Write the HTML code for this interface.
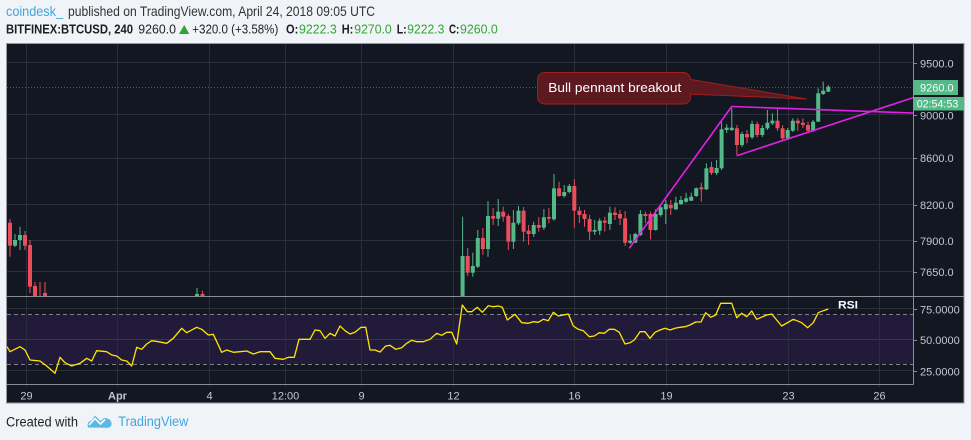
<!DOCTYPE html>
<html><head><meta charset="utf-8"><style>
html,body{margin:0;padding:0;background:#f0f3f7;}
svg{display:block;}
text{font-family:"Liberation Sans",Arial,sans-serif;}
</style></head><body>
<svg width="971" height="440" viewBox="0 0 971 440" xmlns="http://www.w3.org/2000/svg">
<rect x="0" y="0" width="971" height="440" fill="#f0f3f7"/>
<!-- header -->
<text x="6" y="16" font-size="14" fill="#3fa6df" textLength="57" lengthAdjust="spacingAndGlyphs">coindesk_</text>
<text x="68" y="16" font-size="14" fill="#333" textLength="307" lengthAdjust="spacingAndGlyphs">published on TradingView.com, April 24, 2018 09:05 UTC</text>
<g font-size="13">
<text x="6" y="33.5" font-weight="bold" fill="#1e1e1e" textLength="127" lengthAdjust="spacingAndGlyphs">BITFINEX:BTCUSD, 240</text>
<text x="138.3" y="33.5" fill="#222" textLength="37.7" lengthAdjust="spacingAndGlyphs">9260.0</text>
<polygon points="179,34 189.3,34 184.2,25" fill="#2ea52e"/>
<text x="192.3" y="33.5" fill="#222" textLength="86" lengthAdjust="spacingAndGlyphs">+320.0 (+3.58%)</text>
<text x="286" y="33.5" font-weight="bold" fill="#1e1e1e" textLength="12.3" lengthAdjust="spacingAndGlyphs">O:</text>
<text x="299" y="33.5" fill="#33a532" textLength="37.7" lengthAdjust="spacingAndGlyphs">9222.3</text>
<text x="341.7" y="33.5" font-weight="bold" fill="#1e1e1e" textLength="11.6" lengthAdjust="spacingAndGlyphs">H:</text>
<text x="354.3" y="33.5" fill="#33a532" textLength="37.4" lengthAdjust="spacingAndGlyphs">9270.0</text>
<text x="396.7" y="33.5" font-weight="bold" fill="#1e1e1e" textLength="10" lengthAdjust="spacingAndGlyphs">L:</text>
<text x="407.3" y="33.5" fill="#33a532" textLength="37" lengthAdjust="spacingAndGlyphs">9222.3</text>
<text x="449" y="33.5" font-weight="bold" fill="#1e1e1e" textLength="10.3" lengthAdjust="spacingAndGlyphs">C:</text>
<text x="460" y="33.5" fill="#33a532" textLength="37.7" lengthAdjust="spacingAndGlyphs">9260.0</text>
</g>

<!-- panel -->
<rect x="6.5" y="43.5" width="957.5" height="359.5" fill="#131722" stroke="#9598a1" stroke-width="1"/>

<!-- RSI band -->
<rect x="7" y="314.3" width="906" height="49.7" fill="#211a38"/>

<!-- grid -->
<g stroke="#2a2e39" stroke-width="1">
<line x1="7" y1="62.5" x2="913" y2="62.5"/>
<line x1="7" y1="114.5" x2="913" y2="114.5"/>
<line x1="7" y1="158.5" x2="913" y2="158.5"/>
<line x1="7" y1="204.5" x2="913" y2="204.5"/>
<line x1="7" y1="240.5" x2="913" y2="240.5"/>
<line x1="7" y1="271.5" x2="913" y2="271.5"/>
<line x1="7" y1="308.5" x2="913" y2="308.5"/>
<line x1="7" y1="339.5" x2="913" y2="339.5" stroke="#3a3450"/>
<line x1="7" y1="370.5" x2="913" y2="370.5"/>
<line x1="26.5" y1="44" x2="26.5" y2="387"/>
<line x1="117.5" y1="44" x2="117.5" y2="387"/>
<line x1="209.5" y1="44" x2="209.5" y2="387"/>
<line x1="285.5" y1="44" x2="285.5" y2="387"/>
<line x1="361.5" y1="44" x2="361.5" y2="387"/>
<line x1="453.5" y1="44" x2="453.5" y2="387"/>
<line x1="574.5" y1="44" x2="574.5" y2="387"/>
<line x1="666.5" y1="44" x2="666.5" y2="387"/>
<line x1="788.5" y1="44" x2="788.5" y2="387"/>
<line x1="879.5" y1="44" x2="879.5" y2="387"/>
</g>

<!-- RSI dashed -->
<g stroke="#7d808a" stroke-width="1" stroke-dasharray="4 3">
<line x1="7" y1="314.5" x2="913" y2="314.5"/>
<line x1="7" y1="364.5" x2="913" y2="364.5"/>
</g>

<!-- price line dotted -->
<line x1="7" y1="87.5" x2="913" y2="87.5" stroke="#2f6e52" stroke-width="1" stroke-dasharray="1 2"/>

<defs><clipPath id="mp"><rect x="7" y="44" width="906" height="252"/></clipPath></defs>

<!-- candles -->
<g clip-path="url(#mp)">
<g stroke="#eb4d5c" fill="#eb4d5c" stroke-width="1">
<line x1="10" y1="219" x2="10" y2="256.7"/><rect x="8" y="222.7" width="4" height="23" stroke="none"/>
<line x1="25" y1="231" x2="25" y2="250"/><rect x="23" y="235" width="4" height="10.7" stroke="none"/>
<line x1="30" y1="240" x2="30" y2="293"/><rect x="28" y="245" width="4" height="41.7" stroke="none"/>
<line x1="35" y1="282" x2="35" y2="300"/><rect x="33" y="286" width="4" height="14" stroke="none"/>
<line x1="40" y1="282" x2="40" y2="300"/>
<line x1="45" y1="282" x2="45" y2="300"/><rect x="43" y="293" width="4" height="7" stroke="none"/>
<line x1="202.5" y1="290.7" x2="202.5" y2="300"/><rect x="200.5" y="294" width="4" height="6" stroke="none"/>
<line x1="467.7" y1="248" x2="467.7" y2="276"/><rect x="465.7" y="256" width="4" height="16.7" stroke="none"/>
<line x1="482.9" y1="228" x2="482.9" y2="255"/><rect x="480.9" y="238" width="4" height="11" stroke="none"/>
<line x1="493.1" y1="208" x2="493.1" y2="225"/><rect x="491.1" y="216" width="4" height="2.7" stroke="none"/>
<line x1="503.2" y1="206.7" x2="503.2" y2="221.7"/><rect x="501.2" y="211.7" width="4" height="5" stroke="none"/>
<line x1="508.3" y1="214" x2="508.3" y2="250"/><rect x="506.3" y="216" width="4" height="25.7" stroke="none"/>
<line x1="523.6" y1="207" x2="523.6" y2="241.7"/><rect x="521.6" y="210.7" width="4" height="21" stroke="none"/>
<line x1="528.6" y1="225" x2="528.6" y2="245"/><rect x="526.6" y="230.7" width="4" height="3.3" stroke="none"/>
<line x1="538.8" y1="217" x2="538.8" y2="231.7"/><rect x="536.8" y="225" width="4" height="2.7" stroke="none"/>
<line x1="548.9" y1="208" x2="548.9" y2="223.3"/><rect x="546.9" y="217" width="4" height="1.7" stroke="none"/>
<line x1="559.1" y1="181.7" x2="559.1" y2="196.7"/><rect x="557.1" y="188.3" width="4" height="7.7" stroke="none"/>
<line x1="574.3" y1="179" x2="574.3" y2="227.7"/><rect x="572.3" y="186" width="4" height="24.7" stroke="none"/>
<line x1="579.4" y1="206.7" x2="579.4" y2="223"/><rect x="577.4" y="210.7" width="4" height="4.3" stroke="none"/>
<line x1="584.5" y1="210" x2="584.5" y2="226.7"/><rect x="582.5" y="214" width="4" height="5" stroke="none"/>
<line x1="589.6" y1="215" x2="589.6" y2="240"/><rect x="587.6" y="219" width="4" height="12.7" stroke="none"/>
<line x1="604.8" y1="216.7" x2="604.8" y2="231.7"/><rect x="602.8" y="220.7" width="4" height="2" stroke="none"/>
<line x1="615" y1="207.3" x2="615" y2="220"/><rect x="613" y="212.7" width="4" height="2.3" stroke="none"/>
<line x1="620" y1="210" x2="620" y2="225"/><rect x="618" y="214" width="4" height="4.3" stroke="none"/>
<line x1="625.1" y1="211" x2="625.1" y2="246"/><rect x="623.1" y="218.3" width="4" height="24.4" stroke="none"/>
<line x1="645.4" y1="211.7" x2="645.4" y2="223"/><rect x="643.4" y="214" width="4" height="2" stroke="none"/>
<line x1="650.5" y1="211.7" x2="650.5" y2="239.3"/><rect x="648.5" y="214" width="4" height="16" stroke="none"/>
<line x1="670.8" y1="200" x2="670.8" y2="215"/><rect x="668.8" y="205" width="4" height="3.3" stroke="none"/>
<line x1="701.3" y1="182.7" x2="701.3" y2="201.7"/><rect x="699.3" y="187.3" width="4" height="2" stroke="none"/>
<line x1="711.5" y1="161.7" x2="711.5" y2="175"/><rect x="709.5" y="167" width="4" height="6" stroke="none"/>
<line x1="736.9" y1="125" x2="736.9" y2="155"/><rect x="734.9" y="128.3" width="4" height="16.7" stroke="none"/>
<line x1="747" y1="130" x2="747" y2="143.3"/><rect x="745" y="134" width="4" height="3.3" stroke="none"/>
<line x1="757.2" y1="121.7" x2="757.2" y2="137.3"/><rect x="755.2" y="124" width="4" height="11" stroke="none"/>
<line x1="777.5" y1="108.3" x2="777.5" y2="131"/><rect x="775.5" y="120.7" width="4" height="7.6" stroke="none"/>
<line x1="782.6" y1="125" x2="782.6" y2="140"/><rect x="780.6" y="128.3" width="4" height="10" stroke="none"/>
<line x1="797.8" y1="118.3" x2="797.8" y2="130.7"/><rect x="795.8" y="120.7" width="4" height="2.6" stroke="none"/>
<line x1="802.9" y1="118.3" x2="802.9" y2="128"/><rect x="800.9" y="122.7" width="4" height="2.3" stroke="none"/>
<line x1="808" y1="121.7" x2="808" y2="131.7"/><rect x="806" y="125" width="4" height="5.7" stroke="none"/>
</g>
<g stroke="#53b987" fill="#53b987" stroke-width="1">
<line x1="15" y1="234" x2="15" y2="247"/><rect x="13" y="240" width="4" height="5.7" stroke="none"/>
<line x1="20" y1="226.7" x2="20" y2="250"/><rect x="18" y="235" width="4" height="5" stroke="none"/>
<line x1="197" y1="288" x2="197" y2="300"/><rect x="195" y="294" width="4" height="6" stroke="none"/>
<line x1="462.6" y1="216.7" x2="462.6" y2="300"/><rect x="460.6" y="256" width="4" height="44" stroke="none"/>
<line x1="472.8" y1="252.7" x2="472.8" y2="276.7"/><rect x="470.8" y="266" width="4" height="6.7" stroke="none"/>
<line x1="477.8" y1="230" x2="477.8" y2="268"/><rect x="475.8" y="238" width="4" height="28.7" stroke="none"/>
<line x1="488" y1="201" x2="488" y2="256.7"/><rect x="486" y="216" width="4" height="33" stroke="none"/>
<line x1="498.2" y1="199" x2="498.2" y2="226"/><rect x="496.2" y="211.7" width="4" height="7" stroke="none"/>
<line x1="513.4" y1="210" x2="513.4" y2="249"/><rect x="511.4" y="222.7" width="4" height="19" stroke="none"/>
<line x1="518.5" y1="206" x2="518.5" y2="225"/><rect x="516.5" y="210.7" width="4" height="12.6" stroke="none"/>
<line x1="533.7" y1="221.7" x2="533.7" y2="237"/><rect x="531.7" y="225" width="4" height="9" stroke="none"/>
<line x1="543.9" y1="209" x2="543.9" y2="230"/><rect x="541.9" y="217.3" width="4" height="10.4" stroke="none"/>
<line x1="554" y1="174" x2="554" y2="220.7"/><rect x="552" y="188.3" width="4" height="31" stroke="none"/>
<line x1="564.2" y1="185" x2="564.2" y2="197.7"/><rect x="562.2" y="192" width="4" height="4" stroke="none"/>
<line x1="569.3" y1="184" x2="569.3" y2="193.3"/><rect x="567.3" y="186" width="4" height="6" stroke="none"/>
<line x1="594.7" y1="220" x2="594.7" y2="235"/><rect x="592.7" y="230" width="4" height="1.7" stroke="none"/>
<line x1="599.7" y1="218.3" x2="599.7" y2="235"/><rect x="597.7" y="220.7" width="4" height="10" stroke="none"/>
<line x1="609.9" y1="206.7" x2="609.9" y2="230"/><rect x="607.9" y="212.7" width="4" height="11.3" stroke="none"/>
<line x1="630.2" y1="234.3" x2="630.2" y2="244"/><rect x="628.2" y="240.7" width="4" height="2" stroke="none"/>
<line x1="635.3" y1="232.7" x2="635.3" y2="243"/><rect x="633.3" y="234" width="4" height="8.7" stroke="none"/>
<line x1="640.4" y1="210" x2="640.4" y2="236"/><rect x="638.4" y="214" width="4" height="21" stroke="none"/>
<line x1="655.6" y1="209.3" x2="655.6" y2="230.7"/><rect x="653.6" y="214" width="4" height="16" stroke="none"/>
<line x1="660.7" y1="205" x2="660.7" y2="216.7"/><rect x="658.7" y="207.3" width="4" height="7.7" stroke="none"/>
<line x1="665.8" y1="200" x2="665.8" y2="224"/><rect x="663.8" y="204" width="4" height="5.3" stroke="none"/>
<line x1="675.9" y1="196.7" x2="675.9" y2="210"/><rect x="673.9" y="202.7" width="4" height="6.6" stroke="none"/>
<line x1="681" y1="196" x2="681" y2="205"/><rect x="679" y="200" width="4" height="4" stroke="none"/>
<line x1="686.1" y1="192.7" x2="686.1" y2="202.7"/><rect x="684.1" y="198.3" width="4" height="3.4" stroke="none"/>
<line x1="691.2" y1="192.7" x2="691.2" y2="201"/><rect x="689.2" y="196.7" width="4" height="4" stroke="none"/>
<line x1="696.2" y1="187.3" x2="696.2" y2="197"/><rect x="694.2" y="188.3" width="4" height="7.7" stroke="none"/>
<line x1="706.4" y1="163.3" x2="706.4" y2="190"/><rect x="704.4" y="168.3" width="4" height="21" stroke="none"/>
<line x1="716.6" y1="160" x2="716.6" y2="175"/><rect x="714.6" y="168" width="4" height="5" stroke="none"/>
<line x1="721.6" y1="121.7" x2="721.6" y2="170"/><rect x="719.6" y="129.3" width="4" height="39" stroke="none"/>
<line x1="726.7" y1="124" x2="726.7" y2="133"/><rect x="724.7" y="127.7" width="4" height="2.3" stroke="none"/>
<line x1="731.8" y1="108.3" x2="731.8" y2="131"/><rect x="729.8" y="127.7" width="4" height="2.3" stroke="none"/>
<line x1="742" y1="131.7" x2="742" y2="147"/><rect x="740" y="134" width="4" height="11" stroke="none"/>
<line x1="752.1" y1="120.7" x2="752.1" y2="139"/><rect x="750.1" y="124" width="4" height="13.3" stroke="none"/>
<line x1="762.3" y1="125" x2="762.3" y2="137"/><rect x="760.3" y="128" width="4" height="7" stroke="none"/>
<line x1="767.4" y1="110" x2="767.4" y2="130"/><rect x="765.4" y="122.7" width="4" height="5.6" stroke="none"/>
<line x1="772.4" y1="113.3" x2="772.4" y2="125"/><rect x="770.4" y="120.7" width="4" height="2.6" stroke="none"/>
<line x1="787.7" y1="128" x2="787.7" y2="140"/><rect x="785.7" y="130" width="4" height="8.3" stroke="none"/>
<line x1="792.8" y1="118.3" x2="792.8" y2="132"/><rect x="790.8" y="120.7" width="4" height="10" stroke="none"/>
<line x1="813.1" y1="120" x2="813.1" y2="132"/><rect x="811.1" y="121.7" width="4" height="9" stroke="none"/>
<line x1="818.2" y1="88.3" x2="818.2" y2="122"/><rect x="816.2" y="93.3" width="4" height="28.4" stroke="none"/>
<line x1="823.2" y1="81.7" x2="823.2" y2="95"/><rect x="821.2" y="90.7" width="4" height="3.3" stroke="none"/>
<line x1="828.3" y1="85" x2="828.3" y2="92"/><rect x="826.3" y="86.7" width="4" height="5" stroke="none"/>
</g>
</g>

<!-- pennant lines -->
<g stroke="#e520e5" stroke-width="1.6" fill="none" clip-path="url(#mp)">
<line x1="629.3" y1="248.3" x2="731.7" y2="106.5"/>
<line x1="731.7" y1="106.5" x2="913" y2="113"/>
<line x1="736.7" y1="155.7" x2="913" y2="97.7"/>
</g>

<!-- callout -->
<polygon points="688,79 806.7,99 688,94" fill="#5c1a20" stroke="#a11e1e" stroke-width="1"/>
<rect x="537.5" y="72.5" width="153" height="31.5" rx="7" ry="7" fill="#5c1a20" stroke="#a11e1e" stroke-width="1"/>
<rect x="686" y="80" width="5" height="13.5" fill="#5c1a20"/>
<text x="548.3" y="92" font-size="13" fill="#ffffff" textLength="133" lengthAdjust="spacingAndGlyphs">Bull pennant breakout</text>

<!-- RSI line -->
<polyline fill="none" stroke="#ffe600" stroke-width="1.3" stroke-linejoin="round" points="7,346.7 10,351.7 20,346.7 25,350 30,360 40,361 46.7,366 55,373.3 60,357.3 65,362.7 71.7,366 80,363.3 86.7,358.3 91.7,361 96.7,350.7 106.7,351.7 111.7,355 116.7,356 121.7,360 126.7,361 131.7,366 136.7,347.3 141.7,349.3 146.7,344 151.7,340.7 158.3,341.7 166.7,343.3 173.3,338.3 181.7,328.3 186.7,332.7 196.7,327.3 201.7,329.3 208.3,335 213.3,334.3 221.7,352.3 226.7,350 233.3,352.3 240,351.7 246.7,351 253.3,354 260,351.7 270,351.7 275,358.3 283.3,359.3 288.3,357.3 294.3,357.3 299,339.3 310,339.3 315,330 320,330.7 325,338.3 330,333.3 335,336 340,326 345,330.7 350,334 355,332.3 361,327.3 365.7,327.3 370,350 375,350 380,352 385.7,346 390,345.3 395.7,349.3 401.7,347.7 406.7,343.3 411.7,340.3 416.7,341.7 423.3,341.7 430,339.3 436.7,333.3 441.7,335.3 446.7,332.3 451.7,332.3 456.7,344 462.3,305 467.3,311.7 471.7,311.7 477.3,307.3 482.3,312.3 488.3,305.7 493.3,306.7 498.3,306 502.3,307.3 507.3,320 515,314.3 521.7,322.7 528.3,323.3 533.3,321.7 538.3,322.3 543.3,319.3 548.3,320.7 553.3,312.3 558.3,316 563.3,315 568.3,314 573.3,326 578.3,329.3 583.3,330.7 589.3,336.7 594.3,336 599.3,332.7 604.3,333.3 609.3,329.3 614.3,329.3 619.3,332.3 625,344 630,342.7 634.3,340 640,331.7 645,331.7 650,338.3 655,332.3 660,330 665,328.3 670,330 675,328.3 680,327.3 685,326.7 690,325 695.7,322 701,322 705.7,312.7 710.7,317.3 715.7,315 720.7,303.3 731.7,303.3 736.7,317.7 741.7,313.3 746.7,316.7 751.7,311 756.7,319.3 766.7,315 771.7,314 781.7,326 793.3,319.3 801.7,322.7 807.7,327.7 813.3,322.7 818.3,312.7 823.3,310.7 828.3,309"/>
<text x="838" y="308.3" font-family="Liberation Serif, serif" font-weight="bold" font-size="11" fill="#ffffff" textLength="20" lengthAdjust="spacingAndGlyphs">RSI</text>

<!-- separators -->
<g stroke="#8a8d96" stroke-width="1">
<line x1="7" y1="296.5" x2="964" y2="296.5"/>
<line x1="7" y1="384.5" x2="913.5" y2="384.5"/>
<line x1="913.5" y1="44" x2="913.5" y2="384.5"/>
</g>

<!-- price axis ticks -->
<g stroke="#8a8d96" stroke-width="1">
<line x1="913" y1="63.5" x2="917" y2="63.5"/>
<line x1="913" y1="115.5" x2="917" y2="115.5"/>
<line x1="913" y1="158.5" x2="917" y2="158.5"/>
<line x1="913" y1="205.5" x2="917" y2="205.5"/>
<line x1="913" y1="241.5" x2="917" y2="241.5"/>
<line x1="913" y1="272.5" x2="917" y2="272.5"/>
<line x1="913" y1="309.5" x2="917" y2="309.5"/>
<line x1="913" y1="340.5" x2="917" y2="340.5"/>
<line x1="913" y1="371.5" x2="917" y2="371.5"/>
</g>
<g font-size="11" fill="#c3c6ce">
<text x="920" y="67.5">9500.0</text>
<text x="920" y="119.5">9000.0</text>
<text x="920" y="162">8600.0</text>
<text x="920" y="209">8200.0</text>
<text x="920" y="245">7900.0</text>
<text x="920" y="276">7650.0</text>
<text x="920" y="313.3">75.0000</text>
<text x="920" y="344">50.0000</text>
<text x="920" y="375.5">25.0000</text>
</g>

<!-- last price labels -->
<rect x="913" y="80" width="45" height="15" fill="#53b987"/>
<text x="920" y="91.5" font-size="11" fill="#ffffff">9260.0</text>
<rect x="913" y="97" width="51" height="13.5" fill="#53b987"/>
<text x="916.7" y="107.7" font-size="11" fill="#ffffff" textLength="41.6" lengthAdjust="spacingAndGlyphs">02:54:53</text>

<!-- time axis -->
<g font-size="11" fill="#c3c6ce" text-anchor="middle">
<text x="26.5" y="399.5">29</text>
<text x="117.5" y="399.5" font-weight="bold">Apr</text>
<text x="209.5" y="399.5">4</text>
<text x="285.5" y="399.5">12:00</text>
<text x="361.5" y="399.5">9</text>
<text x="453.5" y="399.5">12</text>
<text x="574.5" y="399.5">16</text>
<text x="666.5" y="399.5">19</text>
<text x="788.5" y="399.5">23</text>
<text x="879.5" y="399.5">26</text>
</g>

<!-- footer -->
<text x="6" y="426.5" font-size="13.5" fill="#222" textLength="72" lengthAdjust="spacingAndGlyphs">Created with</text>
<path d="M88,427.5 Q86.5,421.5 91.5,420.5 L95,415.5 L100.5,421 L104,418 Q110.5,418 111.5,423 Q112,427.8 106.5,427.8 Z" fill="#5ab8e4"/>
<path d="M89,425 L95,418.5 L100.5,424 L105,419.5" stroke="#ffffff" stroke-width="1.6" fill="none"/>
<text x="118.3" y="426" font-size="13.5" fill="#3fa6df" textLength="70" lengthAdjust="spacingAndGlyphs">TradingView</text>
</svg>
</body></html>
